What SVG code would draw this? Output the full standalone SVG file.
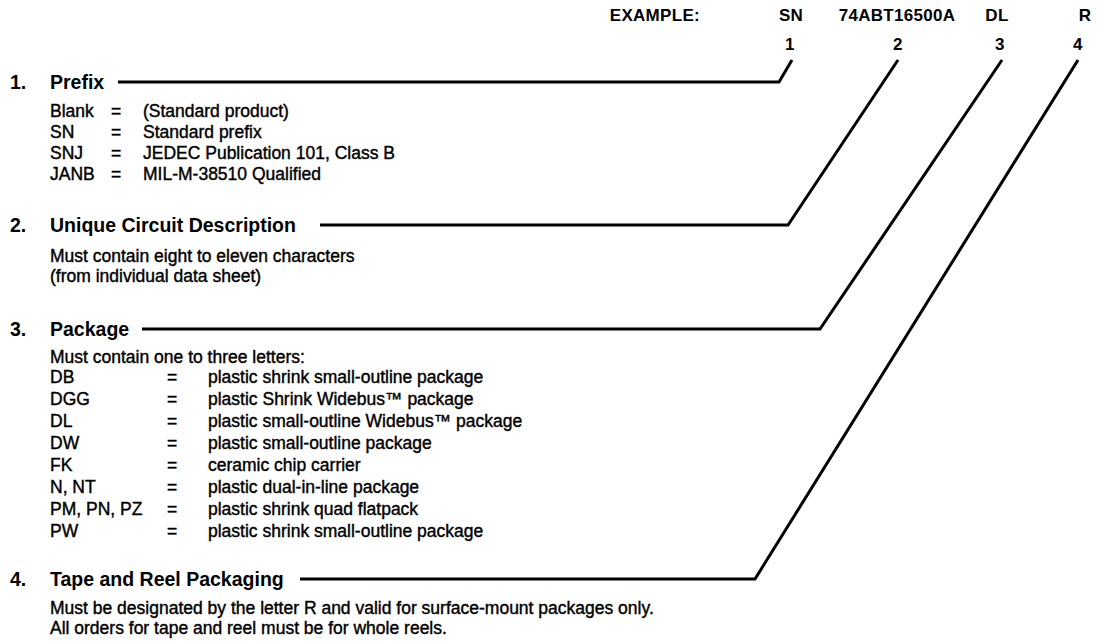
<svg xmlns="http://www.w3.org/2000/svg" width="1099" height="642" viewBox="0 0 1099 642">
<style>
text{font-family:"Liberation Sans",Arial,Helvetica,sans-serif;fill:#000}
.hd{font-size:17px;font-weight:bold;letter-spacing:0.3px}
.tt{font-size:19.5px;font-weight:bold}
.bd{font-size:17.5px;stroke:#000;stroke-width:0.4}
.c{text-anchor:middle}
.ln{fill:none;stroke:#000;stroke-width:3;stroke-linejoin:miter}
</style>
<rect width="1099" height="642" fill="#fff"/>
<g id="header">
<text class="hd" x="700" y="21" text-anchor="end">EXAMPLE:</text>
<text class="hd c" x="791" y="21">SN</text>
<text class="hd c" x="897" y="21">74ABT16500A</text>
<text class="hd c" x="997" y="21">DL</text>
<text class="hd c" x="1085" y="21">R</text>
<text class="hd c" x="790" y="50">1</text>
<text class="hd c" x="898" y="50">2</text>
<text class="hd c" x="1000" y="50">3</text>
<text class="hd c" x="1078" y="50">4</text>
</g>
<g id="prefix">
<text class="tt" x="10" y="89">1.</text>
<text class="tt" x="50" y="89">Prefix</text>
<text class="bd" x="50" y="117">Blank</text><text class="bd c" x="116" y="117">=</text><text class="bd" x="143" y="117">(Standard product)</text>
<text class="bd" x="50" y="138">SN</text><text class="bd c" x="116" y="138">=</text><text class="bd" x="143" y="138">Standard prefix</text>
<text class="bd" x="50" y="159">SNJ</text><text class="bd c" x="116" y="159">=</text><text class="bd" x="143" y="159">JEDEC Publication 101, Class B</text>
<text class="bd" x="50" y="180">JANB</text><text class="bd c" x="116" y="180">=</text><text class="bd" x="143" y="180">MIL-M-38510 Qualified</text>
</g>
<g id="circuit">
<text class="tt" x="10" y="232">2.</text>
<text class="tt" x="50" y="232">Unique Circuit Description</text>
<text class="bd" x="50" y="262">Must contain eight to eleven characters</text>
<text class="bd" x="50" y="282">(from individual data sheet)</text>
</g>
<g id="package">
<text class="tt" x="10" y="336">3.</text>
<text class="tt" x="50" y="336">Package</text>
<text class="bd" x="50" y="363">Must contain one to three letters:</text>
<text class="bd" x="50" y="383">DB</text><text class="bd c" x="172" y="383">=</text><text class="bd" x="208" y="383">plastic shrink small-outline package</text>
<text class="bd" x="50" y="405">DGG</text><text class="bd c" x="172" y="405">=</text><text class="bd" x="208" y="405">plastic Shrink Widebus™ package</text>
<text class="bd" x="50" y="427">DL</text><text class="bd c" x="172" y="427">=</text><text class="bd" x="208" y="427">plastic small-outline Widebus™ package</text>
<text class="bd" x="50" y="449">DW</text><text class="bd c" x="172" y="449">=</text><text class="bd" x="208" y="449">plastic small-outline package</text>
<text class="bd" x="50" y="471">FK</text><text class="bd c" x="172" y="471">=</text><text class="bd" x="208" y="471">ceramic chip carrier</text>
<text class="bd" x="50" y="493">N, NT</text><text class="bd c" x="172" y="493">=</text><text class="bd" x="208" y="493">plastic dual-in-line package</text>
<text class="bd" x="50" y="515">PM, PN, PZ</text><text class="bd c" x="172" y="515">=</text><text class="bd" x="208" y="515">plastic shrink quad flatpack</text>
<text class="bd" x="50" y="537">PW</text><text class="bd c" x="172" y="537">=</text><text class="bd" x="208" y="537">plastic shrink small-outline package</text>
</g>
<g id="tape">
<text class="tt" x="10" y="586">4.</text>
<text class="tt" x="50" y="586">Tape and Reel Packaging</text>
<text class="bd" x="50" y="614">Must be designated by the letter R and valid for surface-mount packages only.</text>
<text class="bd" x="50" y="634">All orders for tape and reel must be for whole reels.</text>
</g>
<g id="connectors">
<polyline class="ln" points="118,82 779,82 792,60"/>
<polyline class="ln" points="320,225 788,225 898,60"/>
<polyline class="ln" points="142,329 820,329 1002,60"/>
<polyline class="ln" points="300,579 755,579 1078,60"/>
</g>
</svg>
